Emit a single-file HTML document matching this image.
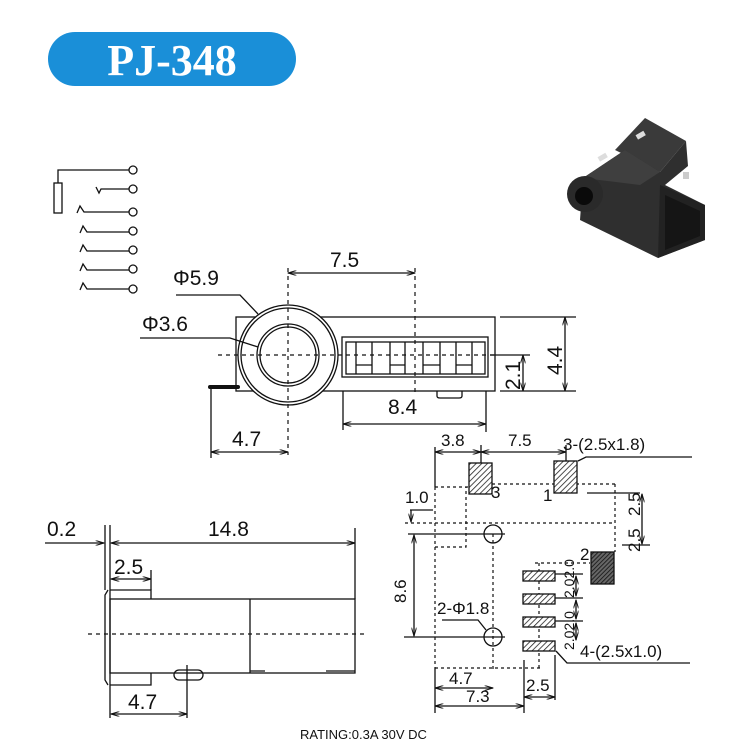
<!DOCTYPE html>
<html><head><meta charset="utf-8"><style>
html,body{margin:0;padding:0;background:#fff;}
svg{display:block;}
text{font-family:"Liberation Sans",Arial,sans-serif;fill:#111;}
</style></head><body>
<svg width="735" height="744" viewBox="0 0 735 744" xmlns="http://www.w3.org/2000/svg">
<defs>
<marker id="a" viewBox="0 0 10 6" refX="10" refY="3" markerWidth="9" markerHeight="5" orient="auto-start-reverse" markerUnits="userSpaceOnUse"><path d="M0,0 L10,3 L0,6" fill="none" stroke="#111" stroke-width="1.2"/></marker>
<pattern id="h" width="4" height="4" patternUnits="userSpaceOnUse" patternTransform="rotate(45)"><rect width="4" height="4" fill="#fff"/><line x1="0" y1="0" x2="0" y2="4" stroke="#222" stroke-width="1.6"/></pattern>
<pattern id="h2" width="3" height="3" patternUnits="userSpaceOnUse" patternTransform="rotate(45)"><rect width="3" height="3" fill="#666"/><line x1="0" y1="0" x2="0" y2="3" stroke="#111" stroke-width="1.6"/></pattern>
</defs>
<rect x="48" y="32" width="248" height="54" rx="27" fill="#1a8fd8"/>
<text x="172" y="75" text-anchor="middle" font-weight="bold" font-size="44" style="fill:#fff;font-family:'Liberation Serif',serif">PJ-348</text>

<g fill="none" stroke="#111" stroke-width="1.3">
<path d="M58,183 V170 H129"/><rect x="54" y="183" width="8" height="30"/>
<circle cx="133" cy="170" r="4"/>
<path d="M96,187 L99,193 L101,189 V189 H129"/><circle cx="133" cy="189" r="4"/>
<path d="M77,213 L80,206 L84,212 H129"/><circle cx="133" cy="212" r="4"/>
<path d="M80,233 L83,226 L87,232 H129"/><circle cx="133" cy="231" r="4"/>
<path d="M80,252 L83,245 L87,251 H129"/><circle cx="133" cy="250" r="4"/>
<path d="M80,271 L83,264 L87,270 H129"/><circle cx="133" cy="269" r="4"/>
<path d="M80,290 L83,283 L87,289 H129"/><circle cx="133" cy="289" r="4"/>

<rect x="236" y="317" width="259" height="74"/>
<circle cx="288" cy="355" r="50" fill="#fff"/><circle cx="288" cy="355" r="47"/>
<circle cx="288" cy="355" r="31"/><circle cx="288" cy="355" r="28"/>
<rect x="342" y="337" width="146" height="40" fill="#fff"/><rect x="346" y="342" width="139" height="32"/>
<path d="M356,342V374M372,342V374M390,342V374M405,342V374M423,342V374M440,342V374M456,342V374M472,342V374M356,365H372M390,365H405M423,365H440M456,365H472"/>
<path d="M437,391 V396 Q437,398 440,398 H459 Q462,398 462,396 V391"/>
<path d="M211,387V458 M343,391V430 M486,391V432 M500,317H576 M500,391H576 M490,355H530"/>
<line x1="211" y1="452" x2="288" y2="452" marker-start="url(#a)" marker-end="url(#a)"/>
<line x1="343" y1="424" x2="486" y2="424" marker-start="url(#a)" marker-end="url(#a)"/>
<line x1="288" y1="273" x2="415" y2="273" marker-start="url(#a)" marker-end="url(#a)"/>
<line x1="565" y1="317" x2="565" y2="391" marker-start="url(#a)" marker-end="url(#a)"/>
<line x1="523" y1="355" x2="523" y2="391" marker-start="url(#a)" marker-end="url(#a)"/>
<path d="M176,295 H240 L258,314 M140,338 H230 L258,347"/>
</g>
<line x1="210" y1="387" x2="238" y2="387" stroke="#111" stroke-width="4" stroke-linecap="round"/>
<g stroke="#111" stroke-width="1.2" stroke-dasharray="4,4" fill="none">
<path d="M218,355H497 M288,268V455 M415,268V392"/>
</g>
<g font-size="21">
<text x="330" y="267">7.5</text><text x="173" y="285">Φ5.9</text><text x="142" y="331">Φ3.6</text>
<text x="388" y="414">8.4</text><text x="232" y="446">4.7</text>
<text transform="translate(520,390) rotate(-90)">2.1</text>
<text transform="translate(562,375) rotate(-90)">4.4</text>
</g>

<g fill="none" stroke="#111" stroke-width="1.3">
<path d="M108,590 L105,595 V680 L108,685"/>
<path d="M110,590 V685"/>
<rect x="110" y="599" width="245" height="74"/>
<path d="M250,599V673 M110,590H151V599 M110,685H151V673 M250,671H265 M326,671H355"/>
<rect x="174" y="670" width="29" height="10" rx="5"/>
<path d="M105,525V590 M110,525V590 M355,528V599 M151,570V590 M110,685V718 M187,665V718"/>
<line x1="45" y1="543" x2="104" y2="543" marker-end="url(#a)"/>
<line x1="111" y1="543" x2="355" y2="543" marker-start="url(#a)" marker-end="url(#a)"/>
<line x1="111" y1="579" x2="151" y2="579" marker-start="url(#a)" marker-end="url(#a)"/>
<line x1="111" y1="714" x2="187" y2="714" marker-start="url(#a)" marker-end="url(#a)"/>
</g>
<line x1="88" y1="634" x2="366" y2="634" stroke="#111" stroke-width="1.2" stroke-dasharray="4,4"/>
<g font-size="21">
<text x="47" y="536">0.2</text><text x="208" y="536">14.8</text><text x="114" y="574">2.5</text><text x="128" y="709">4.7</text>
</g>

<g stroke="#111" stroke-width="1.2" stroke-dasharray="3,3" fill="none">
<path d="M435,487V668 M435,487H470 M492,484H615 M615,484V552 M405,523H615 M435,547H466V487 M493,534V669 M435,668H540 M535,563H590 M539,563V668"/>
</g>
<g stroke="#111" stroke-width="1.3">
<rect x="469" y="463" width="23" height="31" fill="url(#h)"/>
<rect x="554" y="461" width="23" height="32" fill="url(#h)"/>
<rect x="591" y="552" width="23" height="32" fill="url(#h2)"/>
<rect x="523" y="571" width="32" height="10" fill="url(#h)"/>
<rect x="523" y="594" width="32" height="10" fill="url(#h)"/>
<rect x="523" y="617" width="32" height="10" fill="url(#h)"/>
<rect x="523" y="641" width="32" height="10" fill="url(#h)"/>
</g>
<g fill="none" stroke="#111" stroke-width="1.3">
<circle cx="493" cy="534" r="9"/><circle cx="493" cy="637" r="9"/>
<path d="M435,447V487 M481,445V463 M566,445V461 M578,461L586,457H692 M410,510H433 M408,534H505 M404,637H505 M587,493H640 M622,545H650 M555,574H583 M555,598H583 M555,621H583 M442,620H478L486,630 M556,651L567,663H690 M435,668V713 M524,660V713 M555,655V700"/>
<line x1="435" y1="452" x2="481" y2="452" marker-start="url(#a)" marker-end="url(#a)"/>
<line x1="481" y1="452" x2="566" y2="452" marker-start="url(#a)" marker-end="url(#a)"/>
<line x1="411" y1="510" x2="411" y2="522" marker-end="url(#a)"/>
<line x1="414" y1="535" x2="414" y2="636" marker-start="url(#a)" marker-end="url(#a)"/>
<line x1="642" y1="494" x2="642" y2="544" marker-start="url(#a)" marker-end="url(#a)"/>
<line x1="576" y1="576" x2="576" y2="596" marker-start="url(#a)" marker-end="url(#a)"/>
<line x1="576" y1="600" x2="576" y2="619" marker-start="url(#a)" marker-end="url(#a)"/>
<line x1="576" y1="623" x2="576" y2="640" marker-start="url(#a)" marker-end="url(#a)"/>
<line x1="435" y1="688" x2="493" y2="688" marker-start="url(#a)" marker-end="url(#a)"/>
<line x1="435" y1="706" x2="524" y2="706" marker-start="url(#a)" marker-end="url(#a)"/>
<line x1="524" y1="697" x2="555" y2="697" marker-start="url(#a)" marker-end="url(#a)"/>
</g>
<g font-size="17">
<text x="441" y="446">3.8</text><text x="508" y="446">7.5</text><text x="563" y="450">3-(2.5x1.8)</text>
<text x="491" y="498">3</text><text x="543" y="501">1</text><text x="580" y="560">2</text>
<text x="405" y="503">1.0</text><text x="437" y="614">2-Φ1.8</text>
<text x="580" y="657">4-(2.5x1.0)</text>
<text x="449" y="684">4.7</text><text x="466" y="702">7.3</text><text x="526" y="691">2.5</text>
<text transform="translate(406,603) rotate(-90)">8.6</text>
<text transform="translate(640,516) rotate(-90)">2.5</text>
<text transform="translate(640,552) rotate(-90)">2.5</text>
<text transform="translate(574,598) rotate(-90)" font-size="14">2.02.0</text>
<text transform="translate(574,650) rotate(-90)" font-size="14">2.02.0</text>
</g>
<text x="300" y="739" font-size="13">RATING:0.3A 30V DC</text>

<!-- photo -->
<g>
<polygon points="645,118 686,141 660,172 615,150" fill="#3a3a3a"/>
<polygon points="583,178 625,150 660,172 686,141 688,166 665,185 705,205 705,240 658,258 580,220" fill="#2f2f2f"/>
<polygon points="660,185 705,205 705,240 658,258" fill="#222"/>
<polygon points="665,195 700,211 700,236 665,250" fill="#151515"/>
<polygon points="583,178 625,150 660,172 640,185" fill="#3f3f3f"/>
<circle cx="585" cy="194" r="18" fill="#2a2a2a"/>
<circle cx="584" cy="196" r="9" fill="#0a0a0a"/>
<rect x="598" y="155" width="9" height="5" fill="#ddd" transform="rotate(-30 602 157)"/>
<rect x="636" y="133" width="9" height="5" fill="#ddd" transform="rotate(-30 640 135)"/>
<rect x="683" y="172" width="6" height="7" fill="#ccc"/>
</g>
</svg>
</body></html>
